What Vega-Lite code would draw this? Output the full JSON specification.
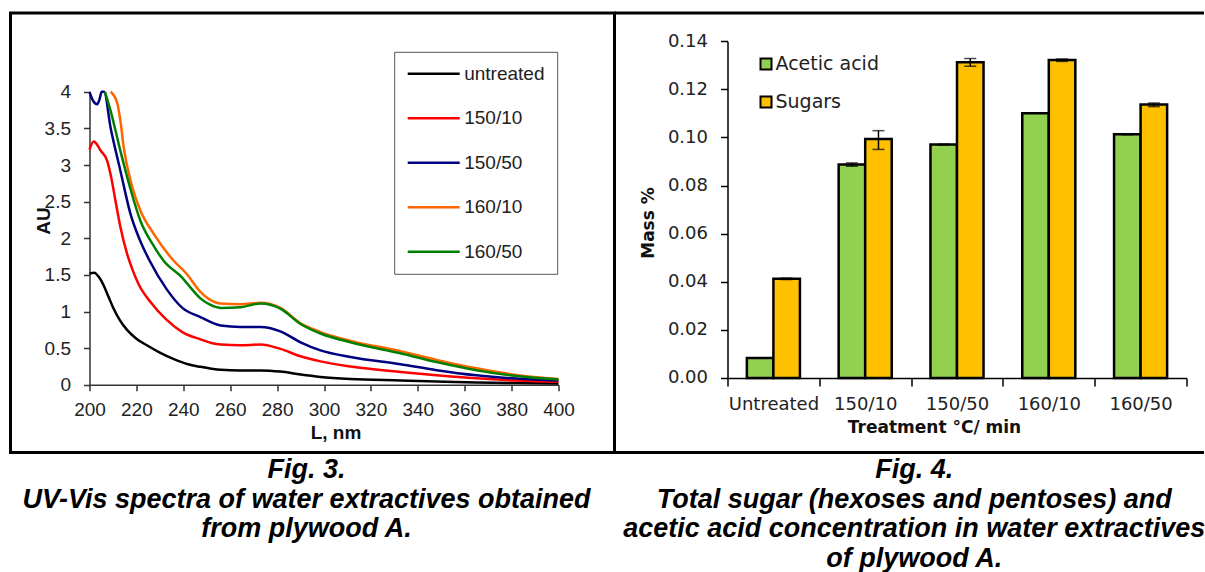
{
  "$schema": "https://vega.github.io/schema/vega-lite/v6.json",
  "padding": {"left": 8.5, "top": 11, "right": 0, "bottom": 0},
  "background": "white",
  "columns": 2,
  "spacing": 0,
  "bounds": "flush",
  "align": "each",
  "resolve": {"scale": {"color": "independent", "x": "independent", "y": "independent"}, "legend": {"color": "independent"}},
  "config": {
    "view": {"stroke": "black", "strokeWidth": 3},
    "axis": {"grid": false}
  },
  "datasets": {
    "spectra": [
      {"series": "untreated", "nm": 200, "AU": 1.52}, {"series": "untreated", "nm": 202, "AU": 1.53}, {"series": "untreated", "nm": 204, "AU": 1.47}, {"series": "untreated", "nm": 206, "AU": 1.36}, {"series": "untreated", "nm": 208, "AU": 1.21}, {"series": "untreated", "nm": 210, "AU": 1.06}, {"series": "untreated", "nm": 213, "AU": 0.88}, {"series": "untreated", "nm": 216, "AU": 0.75}, {"series": "untreated", "nm": 220, "AU": 0.63}, {"series": "untreated", "nm": 225, "AU": 0.53}, {"series": "untreated", "nm": 230, "AU": 0.44}, {"series": "untreated", "nm": 236, "AU": 0.35}, {"series": "untreated", "nm": 242, "AU": 0.28}, {"series": "untreated", "nm": 247.3, "AU": 0.245}, {"series": "untreated", "nm": 252, "AU": 0.22}, {"series": "untreated", "nm": 256, "AU": 0.205}, {"series": "untreated", "nm": 264, "AU": 0.196}, {"series": "untreated", "nm": 273, "AU": 0.196}, {"series": "untreated", "nm": 281.4, "AU": 0.18}, {"series": "untreated", "nm": 290, "AU": 0.14}, {"series": "untreated", "nm": 298.5, "AU": 0.108}, {"series": "untreated", "nm": 311.3, "AU": 0.08}, {"series": "untreated", "nm": 332.6, "AU": 0.06}, {"series": "untreated", "nm": 348, "AU": 0.046}, {"series": "untreated", "nm": 365, "AU": 0.033}, {"series": "untreated", "nm": 382, "AU": 0.024}, {"series": "untreated", "nm": 400, "AU": 0.017},
      {"series": "150/10", "nm": 200, "AU": 3.21}, {"series": "150/10", "nm": 201.8, "AU": 3.32}, {"series": "150/10", "nm": 203, "AU": 3.29}, {"series": "150/10", "nm": 204.7, "AU": 3.2}, {"series": "150/10", "nm": 207.5, "AU": 3.06}, {"series": "150/10", "nm": 209, "AU": 2.87}, {"series": "150/10", "nm": 211.1, "AU": 2.51}, {"series": "150/10", "nm": 213.2, "AU": 2.15}, {"series": "150/10", "nm": 216.1, "AU": 1.78}, {"series": "150/10", "nm": 218, "AU": 1.6}, {"series": "150/10", "nm": 221, "AU": 1.37}, {"series": "150/10", "nm": 226, "AU": 1.13}, {"series": "150/10", "nm": 232.8, "AU": 0.89}, {"series": "150/10", "nm": 239.6, "AU": 0.72}, {"series": "150/10", "nm": 247.3, "AU": 0.62}, {"series": "150/10", "nm": 252, "AU": 0.57}, {"series": "150/10", "nm": 256, "AU": 0.55}, {"series": "150/10", "nm": 264.4, "AU": 0.54}, {"series": "150/10", "nm": 272.9, "AU": 0.55}, {"series": "150/10", "nm": 281.4, "AU": 0.49}, {"series": "150/10", "nm": 290, "AU": 0.39}, {"series": "150/10", "nm": 298.5, "AU": 0.32}, {"series": "150/10", "nm": 311.3, "AU": 0.25}, {"series": "150/10", "nm": 332.6, "AU": 0.175}, {"series": "150/10", "nm": 348, "AU": 0.13}, {"series": "150/10", "nm": 365, "AU": 0.088}, {"series": "150/10", "nm": 382, "AU": 0.058}, {"series": "150/10", "nm": 400, "AU": 0.04},
      {"series": "150/50", "nm": 200, "AU": 4.0}, {"series": "150/50", "nm": 201.5, "AU": 3.88}, {"series": "150/50", "nm": 203.3, "AU": 3.83}, {"series": "150/50", "nm": 204.3, "AU": 3.9}, {"series": "150/50", "nm": 205.2, "AU": 4.0}, {"series": "150/50", "nm": 206.2, "AU": 4.0}, {"series": "150/50", "nm": 209, "AU": 3.51}, {"series": "150/50", "nm": 213.2, "AU": 2.92}, {"series": "150/50", "nm": 217.5, "AU": 2.33}, {"series": "150/50", "nm": 221.7, "AU": 1.96}, {"series": "150/50", "nm": 225.7, "AU": 1.69}, {"series": "150/50", "nm": 232.8, "AU": 1.31}, {"series": "150/50", "nm": 239.6, "AU": 1.05}, {"series": "150/50", "nm": 247.3, "AU": 0.925}, {"series": "150/50", "nm": 255.9, "AU": 0.81}, {"series": "150/50", "nm": 264.4, "AU": 0.79}, {"series": "150/50", "nm": 272.9, "AU": 0.79}, {"series": "150/50", "nm": 281.4, "AU": 0.73}, {"series": "150/50", "nm": 290, "AU": 0.58}, {"series": "150/50", "nm": 298.5, "AU": 0.47}, {"series": "150/50", "nm": 311.3, "AU": 0.38}, {"series": "150/50", "nm": 332.6, "AU": 0.28}, {"series": "150/50", "nm": 348, "AU": 0.2}, {"series": "150/50", "nm": 365, "AU": 0.13}, {"series": "150/50", "nm": 382, "AU": 0.085}, {"series": "150/50", "nm": 400, "AU": 0.057},
      {"series": "160/10", "nm": 209, "AU": 4.0}, {"series": "160/10", "nm": 211.8, "AU": 3.85}, {"series": "160/10", "nm": 213.2, "AU": 3.6}, {"series": "160/10", "nm": 214.6, "AU": 3.24}, {"series": "160/10", "nm": 217.5, "AU": 2.79}, {"series": "160/10", "nm": 221.7, "AU": 2.38}, {"series": "160/10", "nm": 227.4, "AU": 2.06}, {"series": "160/10", "nm": 236, "AU": 1.69}, {"series": "160/10", "nm": 241.3, "AU": 1.52}, {"series": "160/10", "nm": 247.3, "AU": 1.27}, {"series": "160/10", "nm": 251, "AU": 1.17}, {"series": "160/10", "nm": 255.9, "AU": 1.11}, {"series": "160/10", "nm": 264.4, "AU": 1.1}, {"series": "160/10", "nm": 272.9, "AU": 1.12}, {"series": "160/10", "nm": 281.4, "AU": 1.05}, {"series": "160/10", "nm": 290, "AU": 0.84}, {"series": "160/10", "nm": 298.5, "AU": 0.72}, {"series": "160/10", "nm": 311.3, "AU": 0.6}, {"series": "160/10", "nm": 332.6, "AU": 0.46}, {"series": "160/10", "nm": 348, "AU": 0.34}, {"series": "160/10", "nm": 365, "AU": 0.225}, {"series": "160/10", "nm": 382, "AU": 0.135}, {"series": "160/10", "nm": 400, "AU": 0.08},
      {"series": "160/50", "nm": 206.6, "AU": 4.0}, {"series": "160/50", "nm": 209, "AU": 3.74}, {"series": "160/50", "nm": 213.2, "AU": 3.19}, {"series": "160/50", "nm": 217.5, "AU": 2.67}, {"series": "160/50", "nm": 221.7, "AU": 2.24}, {"series": "160/50", "nm": 227.3, "AU": 1.9}, {"series": "160/50", "nm": 231.7, "AU": 1.69}, {"series": "160/50", "nm": 239.6, "AU": 1.46}, {"series": "160/50", "nm": 243, "AU": 1.33}, {"series": "160/50", "nm": 247.3, "AU": 1.18}, {"series": "160/50", "nm": 251, "AU": 1.1}, {"series": "160/50", "nm": 255.9, "AU": 1.05}, {"series": "160/50", "nm": 264.4, "AU": 1.06}, {"series": "160/50", "nm": 272.9, "AU": 1.11}, {"series": "160/50", "nm": 281.4, "AU": 1.04}, {"series": "160/50", "nm": 290, "AU": 0.83}, {"series": "160/50", "nm": 298.5, "AU": 0.7}, {"series": "160/50", "nm": 311.3, "AU": 0.58}, {"series": "160/50", "nm": 332.6, "AU": 0.43}, {"series": "160/50", "nm": 348, "AU": 0.31}, {"series": "160/50", "nm": 365, "AU": 0.2}, {"series": "160/50", "nm": 382, "AU": 0.12}, {"series": "160/50", "nm": 400, "AU": 0.072}
    ],
    "mass": [
      {"treatment": "Untreated", "component": "Acetic acid", "value": 0.0083, "lo": 0.0083, "hi": 0.0083},
      {"treatment": "Untreated", "component": "Sugars", "value": 0.0412, "lo": 0.0409, "hi": 0.0415},
      {"treatment": "150/10", "component": "Acetic acid", "value": 0.0887, "lo": 0.088, "hi": 0.0894},
      {"treatment": "150/10", "component": "Sugars", "value": 0.0993, "lo": 0.095, "hi": 0.1028},
      {"treatment": "150/50", "component": "Acetic acid", "value": 0.097, "lo": 0.0968, "hi": 0.0972},
      {"treatment": "150/50", "component": "Sugars", "value": 0.1312, "lo": 0.1296, "hi": 0.1328},
      {"treatment": "160/10", "component": "Acetic acid", "value": 0.11, "lo": 0.11, "hi": 0.11},
      {"treatment": "160/10", "component": "Sugars", "value": 0.1322, "lo": 0.1316, "hi": 0.1326},
      {"treatment": "160/50", "component": "Acetic acid", "value": 0.1013, "lo": 0.1011, "hi": 0.1015},
      {"treatment": "160/50", "component": "Sugars", "value": 0.1137, "lo": 0.1128, "hi": 0.1143}
    ]
  },
  "concat": [
    {
      "width": 604,
      "height": 439.5,
      "data": {"name": "spectra"},
      "mark": {"type": "line", "interpolate": "monotone", "strokeWidth": 2.5},
      "encoding": {
        "x": {
          "field": "nm", "type": "quantitative",
          "scale": {"domain": [200, 400], "range": [79, 548], "nice": false, "zero": false},
          "axis": {
            "values": [200, 220, 240, 260, 280, 300, 320, 340, 360, 380, 400],
            "offset": -67.7, "domainColor": "#333", "domainWidth": 1.5, "tickColor": "#333", "tickWidth": 1.5, "tickSize": 6,
            "labelFont": "Liberation Sans", "labelFontSize": 19, "labelColor": "#222", "labelPadding": 10, "labelFlush": false,
            "title": "L, nm", "titleFont": "Liberation Sans", "titleFontSize": 19, "titleFontWeight": "bold", "titleColor": "#111",
            "titleX": 325, "titleY": 47.7, "titleBaseline": "middle"
          }
        },
        "y": {
          "field": "AU", "type": "quantitative",
          "scale": {"domain": [0, 4], "range": [371.8, 78.8], "nice": false},
          "axis": {
            "values": [0, 0.5, 1, 1.5, 2, 2.5, 3, 3.5, 4], "format": "~g",
            "offset": -79, "domainColor": "#333", "domainWidth": 1.5, "tickColor": "#333", "tickWidth": 1.5, "tickSize": 6,
            "labelFont": "Liberation Sans", "labelFontSize": 19, "labelColor": "#222", "labelPadding": 13,
            "title": "AU", "titleFont": "Liberation Sans", "titleFontSize": 19, "titleFontWeight": "bold", "titleColor": "#111",
            "titleX": -46, "titleY": 207.5, "titleBaseline": "middle", "titleAngle": -90
          }
        },
        "color": {
          "field": "series", "type": "nominal",
          "scale": {"domain": ["untreated", "150/10", "150/50", "160/10", "160/50"], "range": ["#000000", "#ff0000", "#000080", "#ff6600", "#008000"]},
          "legend": {
            "orient": "none", "legendX": 383.7, "legendY": 38.8, "title": null,
            "symbolType": "stroke", "symbolSize": 2704, "symbolStrokeWidth": 2.5, "clipHeight": 20,
            "labelFont": "Liberation Sans", "labelFontSize": 19, "labelColor": "#222", "labelOffset": 3,
            "rowPadding": 24.5, "padding": 12, "strokeColor": "#555"
          }
        }
      }
    },
    {
      "width": 589.5,
      "height": 439.5,
      "view": {"strokeDash": [589.5, 439.5, 1029, 0]},
      "data": {"name": "mass"},
      "encoding": {
        "x": {
          "field": "treatment", "type": "nominal", "sort": null,
          "scale": {"domain": ["Untreated", "150/10", "150/50", "160/10", "160/50"], "range": [113, 572], "paddingInner": 0, "paddingOuter": 0},
          "axis": {
            "tickBand": "extent", "offset": -74.6, "domainColor": "black", "domainWidth": 1.5, "tickColor": "black", "tickWidth": 1.5, "tickSize": 8,
            "labelFont": "DejaVu Sans", "labelFontSize": 18, "labelColor": "#222", "labelPadding": 10, "labelAngle": 0,
            "title": "Treatment °C/ min", "titleFont": "DejaVu Sans", "titleFontSize": 17, "titleFontWeight": "bold", "titleColor": "#111",
            "titleX": 319.5, "titleY": 49.6, "titleBaseline": "middle"
          }
        },
        "xOffset": {"field": "component", "type": "nominal", "scale": {"domain": ["Acetic acid", "Sugars"], "paddingOuter": 0.73, "paddingInner": 0}}
      },
      "layer": [
        {
          "mark": {"type": "bar", "stroke": "black", "strokeWidth": 2.5},
          "encoding": {
            "y": {
              "field": "value", "type": "quantitative",
              "scale": {"domain": [0, 0.14], "range": [364.9, 28.2], "nice": false},
              "axis": {
                "values": [0, 0.02, 0.04, 0.06, 0.08, 0.1, 0.12, 0.14], "format": ".2f",
                "offset": -113, "domainColor": "black", "domainWidth": 1.5, "tickColor": "black", "tickWidth": 1.5, "tickSize": 7,
                "labelFont": "DejaVu Sans", "labelFontSize": 18, "labelColor": "#222", "labelPadding": 13,
                "title": "Mass %", "titleFont": "DejaVu Sans", "titleFontSize": 17, "titleFontWeight": "bold", "titleColor": "#111",
                "titleX": -79, "titleY": 209.5, "titleBaseline": "middle", "titleAngle": -90
              }
            },
            "color": {
              "field": "component", "type": "nominal",
              "scale": {"domain": ["Acetic acid", "Sugars"], "range": ["#92d050", "#ffc000"]},
              "legend": {
                "orient": "none", "legendX": 142, "legendY": 41.5, "title": null,
                "symbolType": "square", "symbolSize": 121, "symbolStrokeColor": "black", "symbolStrokeWidth": 2,
                "labelFont": "DejaVu Sans", "labelFontSize": 19, "labelColor": "#222", "labelOffset": 0,
                "rowPadding": 18, "padding": 0
              }
            }
          }
        },
        {
          "transform": [{"filter": "datum.hi > datum.lo"}],
          "mark": {"type": "rule", "color": "black", "strokeWidth": 1.5},
          "encoding": {
            "y": {"field": "lo", "type": "quantitative"},
            "y2": {"field": "hi"}
          }
        },
        {
          "transform": [{"filter": "datum.hi > datum.lo"}],
          "mark": {"type": "tick", "color": "black", "thickness": 1.5, "size": 12},
          "encoding": {"y": {"field": "hi", "type": "quantitative"}}
        },
        {
          "transform": [{"filter": "datum.hi > datum.lo"}],
          "mark": {"type": "tick", "color": "black", "thickness": 1.5, "size": 12},
          "encoding": {"y": {"field": "lo", "type": "quantitative"}}
        }
      ]
    },
    {
      "width": 604,
      "height": 118,
      "view": {"strokeDash": [722, 604, 118, 0]},
      "data": {"values": [{}]},
      "mark": {
        "type": "text",
        "text": ["Fig. 3.", "UV-Vis spectra of water extractives obtained", "from plywood A."],
        "font": "Liberation Sans", "fontSize": 27, "fontWeight": "bold", "fontStyle": "italic", "color": "black",
        "align": "center", "baseline": "top", "lineHeight": 29.5, "dx": -6, "dy": -54.6
      },
      "encoding": {}
    },
    {
      "width": 589.5,
      "height": 118,
      "view": {"strokeDash": [589.5, 707.5, 118, 0]},
      "data": {"values": [{}]},
      "mark": {
        "type": "text",
        "text": ["Fig. 4.", "Total sugar (hexoses and pentoses) and", "acetic acid concentration in water extractives", "of plywood A."],
        "font": "Liberation Sans", "fontSize": 27, "fontWeight": "bold", "fontStyle": "italic", "color": "black",
        "align": "center", "baseline": "top", "lineHeight": 29.5, "dx": 5, "dy": -54.6
      },
      "encoding": {}
    }
  ]
}
